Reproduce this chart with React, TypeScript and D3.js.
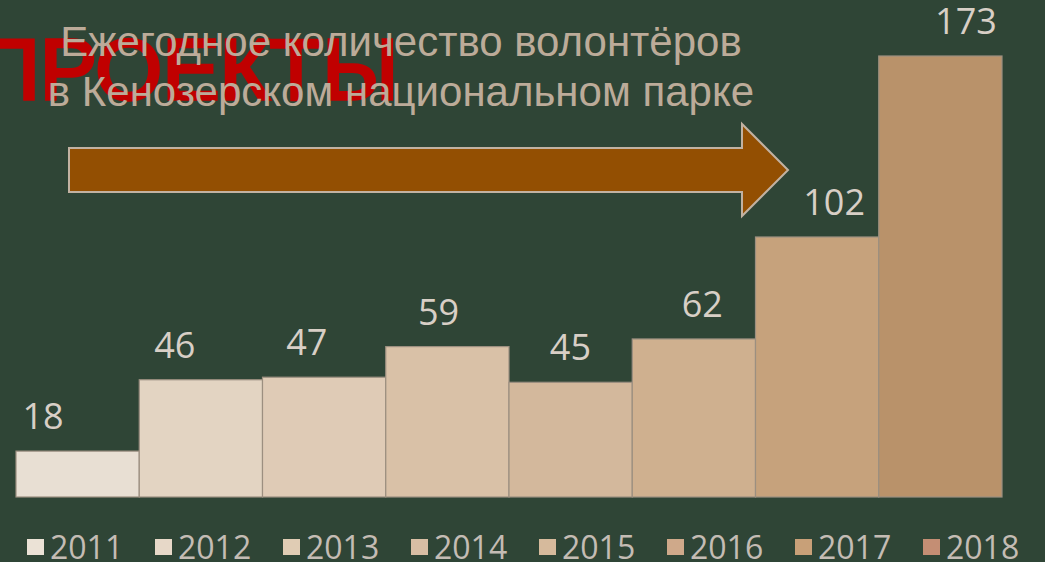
import React from "react";
import * as d3 from "d3";

const years = ["2011", "2012", "2013", "2014", "2015", "2016", "2017", "2018"];
const volunteers = [18, 46, 47, 59, 45, 62, 102, 173];
const barColors = ["#e8dfd3", "#e3d4c2", "#dfcbb6", "#d9c1a7", "#d3b89c", "#cfb08f", "#c6a27c", "#b9926a"];
const legendColors = ["#ebe2d6", "#e7d8c8", "#e0ccb4", "#d8bea4", "#d6ba9c", "#cfa98a", "#c8a078", "#c48e74"];
const titleLines = ["Ежегодное количество волонтёров", "в Кенозерском национальном парке"];
const bgWord = "ПРОЕКТЫ";

const W = 1045;
const H = 562;

export default function App() {
  const x = d3.scaleBand<string>().domain(years).range([16, 1002]).padding(0);
  const y = d3.scaleLinear().domain([0, d3.max(volunteers) as number]).range([497, 56]);
  const labelX = d3.scalePoint<string>().domain(years).range([43, 966]);
  const legendX = d3.scalePoint<string>().domain(years).range([27, 923]);

  const arrow = d3.line()([
    [69, 148], [742, 148], [742, 124], [788, 170], [742, 216], [742, 192], [69, 192],
  ]) + "Z";

  return (
    <svg width={W} height={H} style={{ position: "fixed", left: 0, top: 0, display: "block" }}>
      <rect width={W} height={H} fill="#2f4536" />
      <text x={-22} y={99} fill="#c00000" stroke="#c00000" strokeWidth={3.5} strokeLinejoin="miter"
        fontFamily="'Liberation Sans', Arial, sans-serif" fontSize={86}>
        {bgWord}
      </text>
      {titleLines.map((t, i) => (
        <text key={i} x={401} y={56 + i * 50} textAnchor="middle" fill="#bcab99"
          fontFamily="'Liberation Sans', Arial, sans-serif" fontSize={42}>
          {t}
        </text>
      ))}
      <path d={arrow} fill="#934f02" stroke="#c2b2a2" strokeWidth={2} />
      {years.map((yr, i) => (
        <rect key={yr} x={x(yr)} y={y(volunteers[i])} width={x.bandwidth()} height={y(0) - y(volunteers[i])}
          fill={barColors[i]} stroke="#9c8f80" strokeWidth={1.2} />
      ))}
      {years.map((yr, i) => (
        <text key={"l" + yr} x={labelX(yr)} y={y(volunteers[i]) - 22} textAnchor="middle" fill="#d8cfc6"
          fontFamily="'Open Sans', sans-serif" fontSize={36}>
          {volunteers[i]}
        </text>
      ))}
      {years.map((yr, i) => (
        <g key={"g" + yr} transform={`translate(${legendX(yr)},0)`}>
          <rect x={0} y={539} width={17} height={16} fill={legendColors[i]} />
          <text x={23} y={559} fill="#c4bcb4" fontFamily="'Open Sans', sans-serif" fontSize={32}>
            {yr}
          </text>
        </g>
      ))}
    </svg>
  );
}
